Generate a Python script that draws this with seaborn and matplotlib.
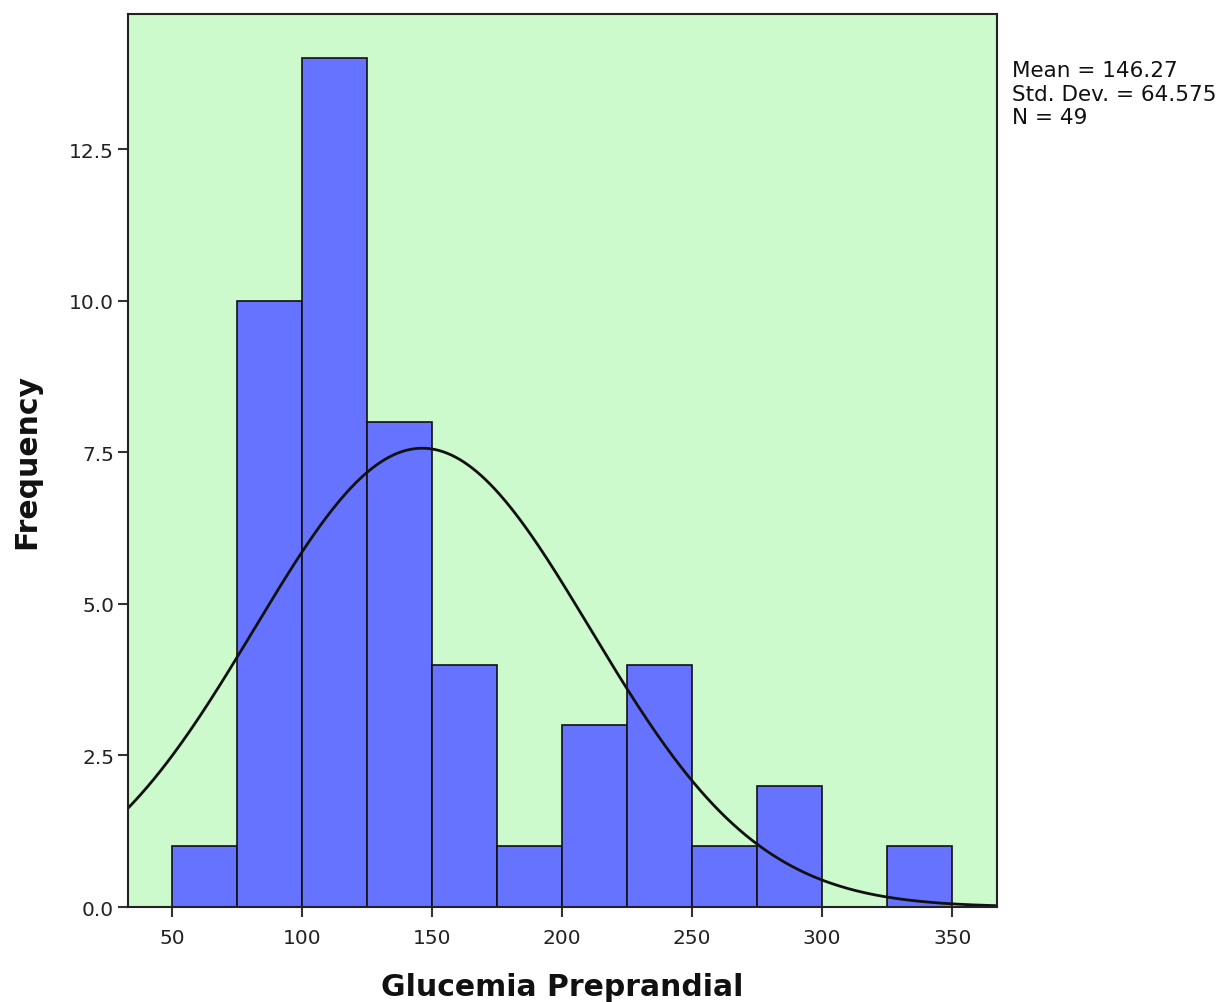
import numpy as np
import pandas as pd
import matplotlib
matplotlib.use("Agg")
import matplotlib.pyplot as plt
import seaborn as sns

# Data
bin_edges = [50, 75, 100, 125, 150, 175, 200, 225, 250, 275, 300, 325, 350]
counts = [1, 10, 14, 8, 4, 1, 3, 4, 1, 2, 0, 1]
mean_val = 146.27
sd_val = 64.575
n_val = 49
x_ticks = [50, 100, 150, 200, 250, 300, 350]
y_ticks = [0.0, 2.5, 5.0, 7.5, 10.0, 12.5]

sns.set_theme(style="white")
plt.rcParams['font.family'] = ['DejaVu Sans']

fig = plt.figure(figsize=(12.28, 10.03), dpi=100)
ax = fig.add_axes([0.1042, 0.0947, 0.7078, 0.8903])
ax.set_facecolor("#ccfacc")

centers = [(bin_edges[i] + bin_edges[i + 1]) / 2 for i in range(len(counts))]
df = pd.DataFrame({"x": centers, "w": counts})
sns.histplot(data=df, x="x", weights="w", bins=bin_edges, ax=ax,
             color="#6673ff", alpha=1.0, edgecolor="#111111", linewidth=1.2)

binw = bin_edges[1] - bin_edges[0]
xs = np.linspace(33, 368, 400)
ys = n_val * binw / (sd_val * np.sqrt(2 * np.pi)) * np.exp(-0.5 * ((xs - mean_val) / sd_val) ** 2)
sns.lineplot(x=xs, y=ys, ax=ax, color="#111111", linewidth=2)

ax.set_xlim(33.1, 367.3)
ax.set_ylim(0, 14.73)
ax.set_xticks(x_ticks)
ax.set_xticklabels([str(v) for v in x_ticks])
ax.set_yticks(y_ticks)
ax.set_yticklabels([f"{v:.1f}" for v in y_ticks])
ax.tick_params(axis="both", which="both", direction="out", length=7, width=1.5,
               colors="#333333", labelcolor="#222222", labelsize=14.5, bottom=True, left=True)
ax.tick_params(axis="x", pad=8)
ax.tick_params(axis="y", pad=3)

for s in ax.spines.values():
    s.set_color("#222222")
    s.set_linewidth(1.5)

ax.set_xlabel("Glucemia Preprandial", fontsize=21.5, fontweight="bold", labelpad=18, color="#111111")
ax.set_ylabel("Frequency", fontsize=21.5, fontweight="bold", labelpad=20, color="#111111")

fig.text(0.824, 0.939, f"Mean = {mean_val}\nStd. Dev. = {sd_val}\nN = {n_val}",
         fontsize=15.5, va="top", ha="left", color="#111111", linespacing=1.22)

fig.savefig("out.png", dpi=100)
